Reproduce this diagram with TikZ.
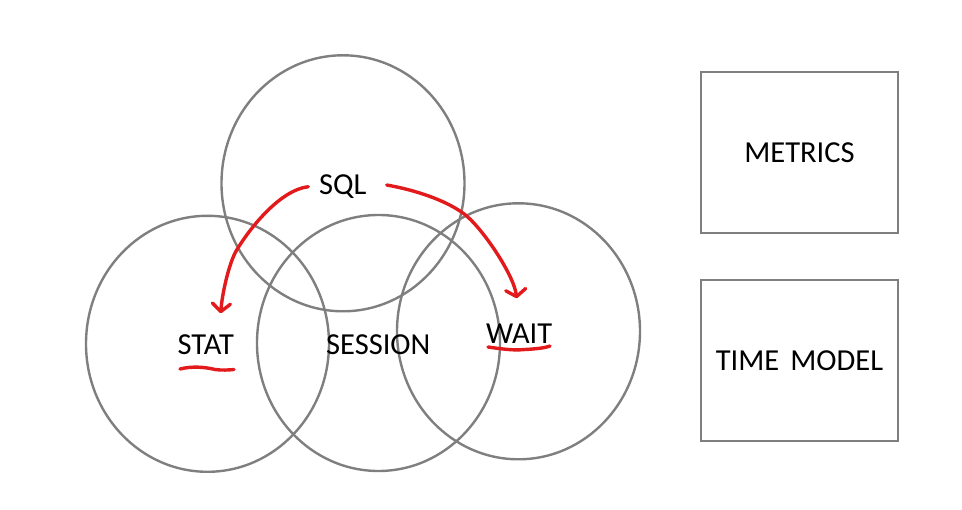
\documentclass[tikz,border=0pt]{standalone}
\usepackage{fontspec}
\setmainfont{Carlito}
\usetikzlibrary{arrows.meta}
\definecolor{ringgray}{HTML}{7F7F7F}
\definecolor{penred}{HTML}{E31A1C}
\tikzset{
  ring/.style={draw=ringgray, line width=2.4pt},
  lbl/.style={inner sep=0pt, text height=19.5pt, text depth=0pt, font=\fontsize{30.5pt}{36pt}\selectfont},
  boxnode/.style={draw=ringgray, line width=2.4pt, minimum width=197pt, minimum height=161pt, inner sep=0pt,
    text height=19.5pt, text depth=0pt, font=\fontsize{30.5pt}{36pt}\selectfont},
  pen/.style={draw=penred, line width=3.4pt, line cap=round, line join=round},
}
\begin{document}
\begin{tikzpicture}[x=1pt,y=-1pt]
\useasboundingbox (0,0) rectangle (962,510);
% rings
\draw[ring] (343,183.3) ellipse [x radius=121.5pt, y radius=128pt];
\draw[ring] (207.5,343.8) ellipse [x radius=121.5pt, y radius=128pt];
\draw[ring] (378.5,343) ellipse [x radius=121.5pt, y radius=128pt];
\draw[ring] (518.5,331.3) ellipse [x radius=121.5pt, y radius=128pt];
% labels
\node[lbl] (sql) at (342.8,185) {SQL};
\node[lbl] (stat) at (205.8,345) {STAT};
\node[lbl] (session) at (378.3,345) {SESSION};
\node[lbl] (wait) at (519.2,333.3) {WAIT};
% boxes
\node[boxnode] (metrics) at (799.5,152.3) {METRICS};
\node[boxnode] (timemodel) at (799.5,360.8) {TIME\hspace{11pt}MODEL};
% arrow endpoints
\coordinate (ls) at (308.3,186.7);
\coordinate (lm) at (236.7,250);
\coordinate (le) at (220.7,313.3);
\coordinate (rs) at (386.7,185);
\coordinate (rm) at (463.3,213.3);
\coordinate (re) at (516.7,298.3);
% red arrows
\draw[pen, -{Straight Barb[length=8pt,width=18pt,round]}]
  (ls) .. controls (280,190) and (250,228) .. (lm)
       .. controls (228.7,263.2) and (222,295) .. (le);
\draw[pen, -{Straight Barb[length=7pt,width=20pt,round]}]
  (rs) .. controls (415,190) and (445,200) .. (rm)
       .. controls (481.6,226.6) and (514,275) .. (re);
% underlines
\coordinate (su1) at (180,369);
\coordinate (su2) at (215,369.5);
\coordinate (su3) at (234,369.5);
\draw[pen] (su1) .. controls (192,366) and (205,367) .. (su2)
                 .. controls (222,370.5) and (229,370) .. (su3);
\coordinate (wu1) at (488,347);
\coordinate (wu2) at (525,349.5);
\coordinate (wu3) at (550,346);
\draw[pen] (wu1) .. controls (505,349.5) and (515,350.5) .. (wu2)
                 .. controls (535,349) and (545,348) .. (wu3);
\end{tikzpicture}
\end{document}
